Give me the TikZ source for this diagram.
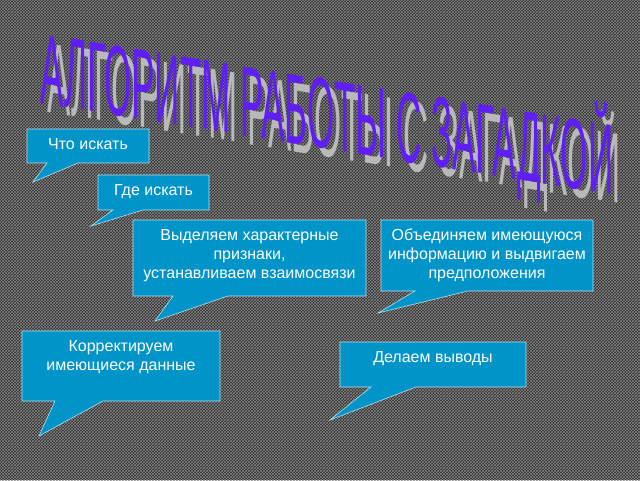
\documentclass[tikz,border=0pt]{standalone}
\usepackage{fontspec}
\setmainfont{Liberation Sans}
\usetikzlibrary{patterns}

\definecolor{slidegray}{RGB}{45,45,45}
\definecolor{weavegray}{RGB}{135,135,135}
\definecolor{calloutblue}{RGB}{0,148,200}
\definecolor{calloutedge}{RGB}{175,225,240}
\definecolor{titleblue}{RGB}{95,30,245}
\definecolor{titleshadow}{RGB}{185,185,185}

\tikzset{%
  callout/.style={
    fill=calloutblue,
    draw=calloutedge,
    line width=0.6pt,
    line join=miter
  },
  callout text/.style={
    anchor=north,
    align=center,
    inner sep=0pt,
    text=white,
    font=\fontsize{16}{19}\selectfont
  },
  title/.style={
    anchor=base west,
    inner sep=0pt,
    yslant=-0.16,
    text=titleblue,
    font=\fontsize{50}{50}\selectfont
  },
}

\begin{document}
\begin{tikzpicture}[x=1pt, y=-1pt]

% Hintergrund
\fill [slidegray] (0,0) rectangle (640,480);
\fill [pattern=crosshatch, pattern color=weavegray] (0,0) rectangle (640,480);
\useasboundingbox (0,0) rectangle (640,480);


% Titel mit Schatten
\node [title, text=titleshadow] (title-shadow) at (47,112)
	{\scalebox{0.7}[2]{АЛГОРИТМ РАБОТЫ С ЗАГАДКОЙ}};
\node [title] (title) at (40,103)
	{\scalebox{0.7}[2]{АЛГОРИТМ РАБОТЫ С ЗАГАДКОЙ}};


% Sprechblasen
\foreach \xa/\ya/\xb/\yb/\bl/\br/\tx/\ty/\txt [count=\i] in {
    27/129/149/163/47/78/33/182/{Что искать},
    98/175/209/210/113/143/91/226/{Где искать},
    133/220/366/296/173/228/155/321/{Выделяем характерные\\признаки,\\устанавливаем взаимосвязи},
    381/220/593/291/415/468/378/313/{Объединяем имеющуюся\\информацию и выдвигаем\\предположения},
    22/331/220/401/55/103/39/436/{Корректируем\\имеющиеся данные},
    340/342/526/387/371/416/330/420/{Делаем выводы}}
{
  \draw [callout] (\xa,\ya) -- (\xb,\ya) -- (\xb,\yb) -- (\br,\yb)
    -- (\tx,\ty) -- (\bl,\yb) -- (\xa,\yb) -- cycle;
  \node [callout text] (box-\i) at ({(\xa+\xb)/2},\ya+9) {\txt};
}

\end{tikzpicture}
\end{document}
